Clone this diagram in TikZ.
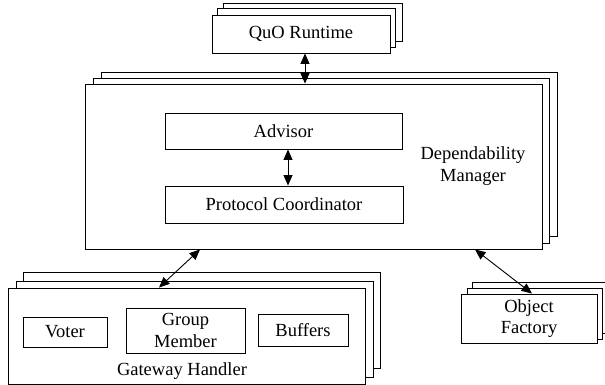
\documentclass[tikz,border=0pt]{standalone}
\usepackage{fontspec}
\setmainfont{Liberation Serif}
\newfontfamily\tnrfont{Liberation Serif}
\usetikzlibrary{arrows.meta}
\begin{document}
\begin{tikzpicture}[x=1pt,y=-1pt,
  txt/.style={font=\tnrfont\fontsize{18.5}{21.5}\selectfont},
  box/.style={draw,line width=0.9pt,fill=white,inner sep=0pt,align=center,txt},
  layer/.style={draw,line width=0.9pt,fill=white},
  lbl/.style={inner sep=0pt,align=center,txt},
  biarrow/.style={line width=0.9pt,{Triangle[length=10.5pt,width=9pt]}-{Triangle[length=10.5pt,width=9pt]}}]
\useasboundingbox (0,0) rectangle (605,385);
% back layers
\draw[layer] (223,3) rectangle (402,41);
\draw[layer] (217,8) rectangle (395,47);
\draw[layer] (101,72) rectangle (557,236);
\draw[layer] (93,78) rectangle (549,243);
\draw[layer] (23,272) rectangle (380,368);
\draw[layer] (16,281) rectangle (373,377);
\draw[layer] (472,282) rectangle (608,333);
\draw[layer] (467,288) rectangle (602,339);
% front boxes
\node[box,minimum width=178pt,minimum height=38pt] (quo) at (301,34) {QuO Runtime};
\node[box,minimum width=457pt,minimum height=165pt] (dm) at (313.5,166.5) {};
\node[lbl] (dmlbl) at (473,166) {Dependability\\Manager};
\node[box,minimum width=237pt,minimum height=36pt] (adv) at (283.5,131) {Advisor};
\node[box,minimum width=238pt,minimum height=37pt] (pc) at (284,204.5) {Protocol Coordinator};
\node[box,minimum width=357pt,minimum height=96pt] (gh) at (186.5,336) {};
\node[lbl] (ghlbl) at (182,371) {Gateway Handler};
\node[box,minimum width=84pt,minimum height=30pt] (voter) at (65,332) {Voter};
\node[box,minimum width=119pt,minimum height=45pt] (gm) at (185.5,330.5) {Group\\Member};
\node[box,minimum width=90pt,minimum height=32pt] (buf) at (303,330) {Buffers};
\node[box,minimum width=136pt,minimum height=49pt] (of) at (529,318.5) {Object\\Factory};
% connectors
\coordinate (c305) at (305,0);
\coordinate (c288) at (288,0);
\coordinate (c159) at (159,0);
\coordinate (c200) at (200,0);
\coordinate (c475) at (475,0);
\coordinate (c532) at (532,0);
\draw[biarrow] (quo.south -| c305) -- (dm.north -| c305);
\draw[biarrow] (adv.south -| c288) -- (pc.north -| c288);
\draw[biarrow] (gh.north -| c159) -- (dm.south -| c200);
\draw[biarrow] (dm.south -| c475) -- (of.north -| c532);
\end{tikzpicture}
\end{document}
